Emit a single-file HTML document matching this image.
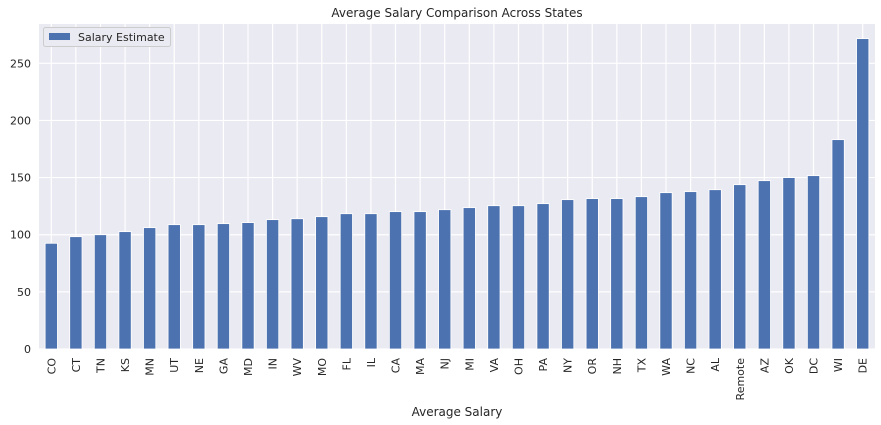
<!DOCTYPE html>
<html><head><meta charset="utf-8"><style>
html,body{margin:0;padding:0;background:#fff;width:881px;height:425px;overflow:hidden}
svg text{font-family:"DejaVu Sans","Liberation Sans",sans-serif;fill:#262626}
</style></head><body>
<svg id="chart" width="881" height="425" xmlns="http://www.w3.org/2000/svg">
<rect x="39" y="24" width="836" height="325" fill="#eaeaf2"/>
<g id="grid"></g><g id="bars"></g><g id="labels"></g>
<text x="457" y="17" font-size="12" text-anchor="middle">Average Salary Comparison Across States</text>
<text x="457" y="416" font-size="12" text-anchor="middle">Average Salary</text>
<g>
<rect x="43.5" y="27.5" width="127" height="19" rx="2" fill="#eaeaf2" stroke="#cccccc"/>
<rect x="49" y="33" width="21" height="7" fill="#4c72b0"/>
<text x="78" y="41" font-size="11">Salary Estimate</text>
</g>
</svg>
<script>
const categories=["CO","CT","TN","KS","MN","UT","NE","GA","MD","IN","WV","MO","FL","IL","CA","MA","NJ","MI","VA","OH","PA","NY","OR","NH","TX","WA","NC","AL","Remote","AZ","OK","DC","WI","DE"];
const salaryValues=[92.5,98.3,100,102.7,106.2,108.8,108.8,109.7,110.6,113.2,114,115.8,118.4,118.4,120.2,120.2,121.9,123.7,125.4,125.4,127.2,130.7,131.6,131.6,133.3,136.8,137.7,139.4,143.8,147.3,150,151.7,183.2,271.6];
const yTicks=[0,50,100,150,200,250];
const NS="http://www.w3.org/2000/svg";
const L=39,R=875,T=24,B=349,yMax=284.4;
const step=(R-L)/categories.length;
const y=v=>B-(v/yMax)*(B-T);
const xc=i=>L+step*(i+0.5);
function mk(tag,attrs,parent){const e=document.createElementNS(NS,tag);for(const k in attrs)e.setAttribute(k,attrs[k]);parent.appendChild(e);return e;}
const grid=document.getElementById('grid'),bars=document.getElementById('bars'),labels=document.getElementById('labels');
yTicks.forEach(t=>{
  const l=mk('line',{x1:L,x2:R,y1:y(t),y2:y(t),stroke:'#fff','stroke-width':1.2},grid);
  
  
  const tx=mk('text',{x:L-8,y:y(t)+4,'font-size':11,'text-anchor':'end'},labels);
  tx.textContent=t;
  
  
});
categories.forEach((c,i)=>{
  const gl=mk('line',{x1:xc(i),x2:xc(i),y1:T,y2:B,stroke:'#fff','stroke-width':1.2},grid);
  
  
  const w=step*0.5;
  const r=mk('rect',{x:xc(i)-w/2,y:y(salaryValues[i]),width:w,height:B-y(salaryValues[i]),fill:'#4c72b0',stroke:'#fff','stroke-width':0.8},bars);
  
  
  const tx=mk('text',{x:0,y:0,'font-size':11,'text-anchor':'end',transform:`translate(${xc(i)+4},${B+9}) rotate(-90)`},labels);
  tx.textContent=c;
  
  
});
</script>
</body></html>
